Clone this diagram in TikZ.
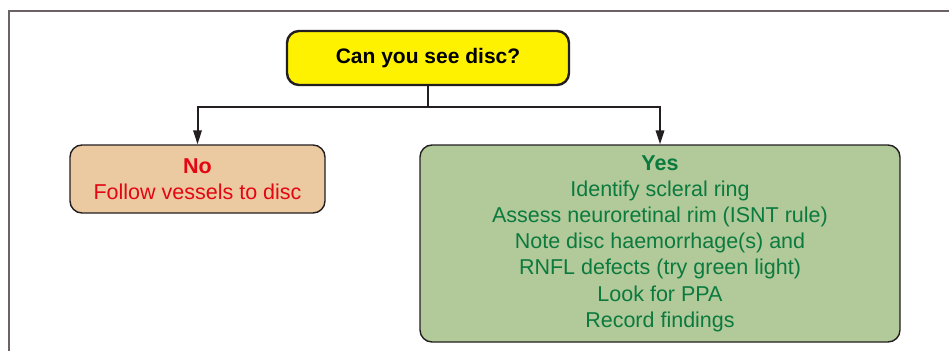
\documentclass[tikz,border=0pt]{standalone}
\usepackage{fontspec}
\setmainfont{Liberation Sans}
\usetikzlibrary{arrows.meta}

\definecolor{cdQuest}{HTML}{FFF200}
\definecolor{cdNo}{HTML}{EBCAA1}
\definecolor{cdYes}{HTML}{B2C99A}
\definecolor{cdNoText}{HTML}{E30613}
\definecolor{cdYesText}{HTML}{0B7A3E}
\definecolor{cdLine}{HTML}{231F20}
\definecolor{cdFrame}{HTML}{6B6264}

\begin{document}
\begin{tikzpicture}[x=1pt, y=-1pt, font=\fontsize{21.5}{26.2}\selectfont,
  box/.style={draw=cdLine, line width=1.4pt, rounded corners=12pt, align=center,
    inner sep=0pt},
  link/.style={draw=cdLine, line width=2pt, -{Triangle[length=14pt, width=8.5pt]}}]
\useasboundingbox (0,0) rectangle (949,351);
% frame
\draw[cdFrame, line width=2pt] (9,351) -- (9,11) -- (949,11);
% nodes
\node[box, fill=cdQuest, line width=2.4pt, minimum width=282pt, minimum height=54pt,
  font=\fontsize{21}{25}\selectfont]
  (question) at (428,58) {\textbf{Can you see disc?}};
\node[box, fill=cdNo, text=cdNoText, minimum width=255pt, minimum height=68pt]
  (nobox) at (197.5,179) {\textbf{No}\\Follow vessels to disc};
\node[box, fill=cdYes, text=cdYesText, minimum width=480pt, minimum height=197pt]
  (yesbox) at (660,243.5) {\textbf{Yes}\\Identify scleral ring\\Assess neuroretinal rim (ISNT rule)\\
  Note disc haemorrhage(s) and\\RNFL defects (try green light)\\Look for PPA\\Record findings};
% links
\coordinate (split) at (428,107);
\draw[link] (question.south) -- (split) -| (nobox.north);
\draw[link] (question.south) -- (split) -| (yesbox.north);
\end{tikzpicture}
\end{document}
